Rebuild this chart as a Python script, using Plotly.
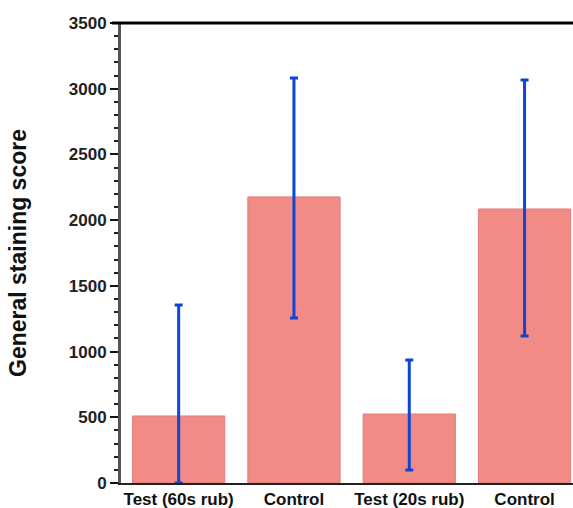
import plotly.graph_objects as go

categories = ["Test (60s rub)", "Control", "Test (20s rub)", "Control"]
scores = [510, 2177, 525, 2085]
err_plus = [845, 905, 411, 982]
err_minus = [510, 921, 426, 966]
y_ticks = [0, 500, 1000, 1500, 2000, 2500, 3000, 3500]

x_pos = list(range(len(categories)))
FONT = "Liberation Sans, Arial, sans-serif"

fig = go.Figure()
fig.add_trace(go.Bar(
    x=x_pos, y=scores, width=0.8,
    marker=dict(color="#f28b86", line=dict(color="#e27f79", width=1)),
    error_y=dict(type="data", symmetric=False, array=err_plus, arrayminus=err_minus,
                 color="#0d45d6", thickness=3, width=4),
))

fig.update_layout(
    width=573, height=508,
    margin=dict(l=121, r=0, t=23, b=25),
    plot_bgcolor="white", paper_bgcolor="white",
    showlegend=False,
    font=dict(family=FONT, color="#111"),
)
fig.update_xaxes(
    range=[-0.5, 3.42], tickvals=x_pos, ticktext=categories,
    tickfont=dict(size=17, family=FONT, weight="bold", color="#111"),
    showline=True, linecolor="#222", linewidth=2,
    ticks="",
    showgrid=False, zeroline=False, automargin=False,
)
fig.update_yaxes(
    range=[0, 3500], tickvals=y_ticks, ticktext=[str(v) for v in y_ticks],
    tickfont=dict(size=17, family=FONT, weight="bold", color="#222"),
    showline=True, linecolor="#555", linewidth=3,
    ticks="outside", ticklen=8, tickwidth=2, tickcolor="#111",
    minor=dict(dtick=100, ticks="outside", ticklen=4, tickwidth=2, tickcolor="#222"),
    showgrid=False, zeroline=False, automargin=False,
    title=dict(text="General staining score",
               font=dict(size=23, family=FONT, weight="bold", color="#111"),
               standoff=36),
)
# top frame line
fig.add_shape(type="line", xref="paper", yref="paper", x0=-0.02, x1=1, y0=1, y1=1,
              line=dict(color="black", width=3))

fig.write_html("out.html", config={"displayModeBar": False},
               post_script="document.body.style.margin='0';")
